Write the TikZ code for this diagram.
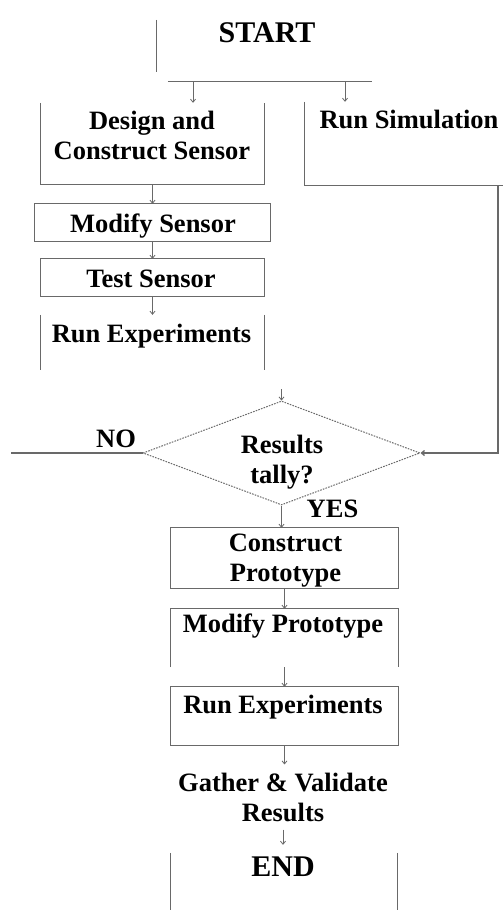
\documentclass[tikz,border=0pt]{standalone}
\usepackage{fontspec}
\setmainfont{Liberation Serif}
\usetikzlibrary{arrows.meta,shapes.geometric}
\definecolor{ln}{RGB}{105,105,105}
\begin{document}
\begin{tikzpicture}[x=1pt,y=-1pt,
  edge/.style={draw=ln, line width=1.3pt},
  arr/.style={draw=ln, line width=0.8pt, -{Straight Barb[length=3pt,width=5pt]}},
  bigarr/.style={draw=ln, line width=1.3pt, -{Straight Barb[length=3pt,width=5pt]}},
  frame/.style={rectangle, draw=none, inner sep=0pt},
  lbl/.style={font=\fontsize{26.5}{30}\selectfont\bfseries, align=center, inner sep=0pt},
  big/.style={font=\fontsize{30}{34}\selectfont\bfseries, inner sep=0pt},
  decision/.style={diamond, draw=ln, line width=1pt, dash pattern=on 1.6pt off 1.2pt, inner sep=0pt}
]
\useasboundingbox (0,0) rectangle (503,910);
\fill[white] (0,0) rectangle (503,910);

% ---- frames (nodes) ----
\node[frame, minimum width=224, minimum height=70] (start) at (269,46) {};
\node[frame, minimum width=223, minimum height=81] (design) at (152.5,143.5) {};
\node[frame, minimum width=215, minimum height=83] (runsim) at (412.5,143.5) {};
\node[frame, minimum width=235, minimum height=37] (modsen) at (152.5,222.5) {};
\node[frame, minimum width=223, minimum height=37] (testsen) at (152.5,277.5) {};
\node[frame, minimum width=223, minimum height=55] (runexp1) at (152.5,342.5) {};
\node[decision, minimum width=277, minimum height=104] (dia) at (281.5,453) {};
\node[frame, minimum width=227, minimum height=60] (cons) at (284.5,558) {};
\node[frame, minimum width=227, minimum height=58] (modpro) at (284.5,638) {};
\node[frame, minimum width=227, minimum height=58] (runexp2) at (284.5,716) {};
\node[frame, minimum width=226, minimum height=70] (endb) at (284,880) {};

% ---- labels ----
\node[big] (startlbl) at (267,33) {START};
\node[lbl] (designlbl) at (152,135) {Design and\\Construct Sensor};
\node[lbl] (runsimlbl) at (409,119) {Run Simulation};
\node[lbl] (modsenlbl) at (153,226.5) {Modify Sensor};
\node[lbl] (testsenlbl) at (151,278.5) {Test Sensor};
\node[lbl] (runexp1lbl) at (151.5,336) {Run Experiments};
\node[lbl] (dialbl) at (282,462) {Results\\tally?};
\node[lbl] (nolbl) at (116,438.5) {NO};
\node[lbl] (yeslbl) at (332.5,509) {YES};
\node[lbl] (conslbl) at (285.5,561) {Construct\\Prototype};
\node[lbl] (modprolbl) at (283,626) {Modify Prototype};
\node[lbl] (runexp2lbl) at (283,707) {Run Experiments};
\node[lbl, inner ysep=8pt] (gather) at (283,797) {Gather \& Validate\\Results};
\node[big] (endlbl) at (283,867) {END};

% ---- visible frame edges ----
\draw[edge] ([shift={(0,9)}]start.north west) -- ([shift={(0,-9)}]start.south west);
\draw[edge] ([shift={(11,0)}]start.south west) -- ([shift={(-9,0)}]start.south east);
\draw[edge] (design.north west) -- (design.south west) -- (design.south east) -- (design.north east);
\draw[edge] (runsim.north west) -- (runsim.south west) -- (runsim.south east);
\draw[edge] (modsen.north west) rectangle (modsen.south east);
\draw[edge] (testsen.north west) rectangle (testsen.south east);
\draw[edge] (runexp1.north west) -- (runexp1.south west);
\draw[edge] (runexp1.north east) -- (runexp1.south east);
\draw[edge] (cons.north west) rectangle (cons.south east);
\draw[edge] (modpro.south west) -- (modpro.north west) -- (modpro.north east) -- (modpro.south east);
\draw[edge] (runexp2.north west) rectangle (runexp2.south east);
\draw[edge] ([shift={(0,8)}]endb.north west) -- (endb.south west);
\draw[edge] ([shift={(0,8)}]endb.north east) -- (endb.south east);

% ---- connectors ----
\draw[arr] ([shift={(-76,0)}]start.south) -- ([shift={(-76,0)}]start.south |- design.north);
\draw[arr] ([shift={(76,0)}]start.south) -- ([shift={(76,0)}]start.south |- runsim.north);
\draw[arr] (design.south) -- (modsen.north);
\draw[arr] (modsen.south) -- (testsen.north);
\draw[arr] (testsen.south) -- (runexp1.north);
\coordinate (dstub) at (281.5,389);
\draw[arr] (dstub) -- (dia.north);
\coordinate (simout) at (498,185);
\draw[bigarr] (simout) -- (simout |- dia.east) -- (dia.east);
\coordinate (noend) at (11,453);
\draw[edge] (dia.west) -- (noend);
\draw[arr] (dia.south) -- (dia.south |- cons.north);
\draw[arr] (cons.south) -- (modpro.north);
\draw[arr] (modpro.south) -- (runexp2.north);
\draw[arr] (runexp2.south) -- (runexp2.south |- gather.north);
\draw[arr] (gather.south) -- (gather.south |- endb.north);
\end{tikzpicture}
\end{document}
